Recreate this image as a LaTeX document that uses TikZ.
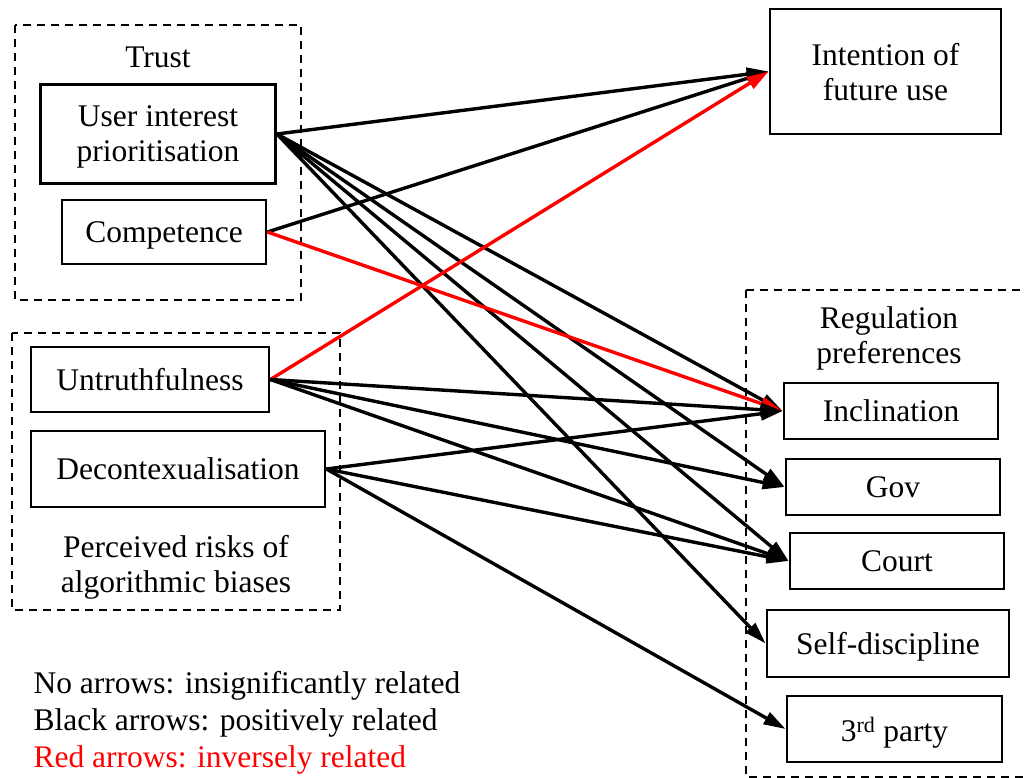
\documentclass[tikz,border=0pt]{standalone}
\usepackage{fontspec}
\setmainfont{Liberation Serif}
\usetikzlibrary{arrows.meta}
\tikzset{
	factor/.style={draw, line width=2.8pt, align=center, inner sep=0pt, text depth=0pt},
	group/.style={draw, line width=2.4pt, dash pattern=on 8pt off 6pt},
	posrel/.style={-{Triangle[length=22pt,width=13pt]}, line width=3.4pt},
	negrel/.style={posrel, red},
}

\begin{document}
\begin{tikzpicture}[x=1pt, y=-1pt, every node/.style={font=\fontsize{31.5}{35}\selectfont}]
	\useasboundingbox (0,0) rectangle (1024,778);

	% Trust
	\draw[group] (15,25) rectangle (301,300);
	\node (trust) at (158,57) {Trust};
	\node[factor, minimum width=235pt, minimum height=99pt] (uip) at (158,134) {User interest\\prioritisation};
	\node[factor, minimum width=204pt, minimum height=64pt] (comp) at (164,232) {Competence};

	% Perceived risks
	\draw[group] (12,333) rectangle (340,610);
	\node[factor, minimum width=238pt, minimum height=65pt] (untr) at (150,379.5) {Untruthfulness};
	\node[factor, minimum width=294pt, minimum height=76pt] (decon) at (178,469) {Decontexualisation};
	\node[align=center] (risks) at (176,567) {Perceived risks of\\algorithmic biases};

	% Intention
	\node[factor, minimum width=231pt, minimum height=125pt] (intent) at (885.5,71.5) {Intention of\\future use};

	% Regulation preferences
	\draw[group] (746,290) rectangle (1040,777);
	\node[align=center] (regul) at (889,338) {Regulation\\preferences};
	\node[factor, minimum width=214pt, minimum height=56pt] (incl) at (891,411) {Inclination};
	\node[factor, minimum width=214pt, minimum height=56pt] (gov) at (893,487) {Gov};
	\node[factor, minimum width=214pt, minimum height=56pt] (court) at (897,561) {Court};
	\node[factor, minimum width=242pt, minimum height=67pt] (selfd) at (888,643.5) {Self-discipline};
	\node[factor, minimum width=215pt, minimum height=66pt] (third) at (894.5,729) {3\textsuperscript{rd} party};

	% Arrows
	\draw[posrel] (uip.east) -- (intent.west);
	\draw[posrel] (uip.east) -- (incl.west);
	\draw[posrel] (uip.east) -- (gov.west);
	\draw[posrel] (uip.east) -- (court.west);
	\draw[posrel] (uip.east) -- (selfd.west);
	\draw[posrel] (comp.east) -- (intent.west);
	\draw[negrel] (comp.east) -- (incl.west);
	\draw[negrel] (untr.east) -- (intent.west);
	\draw[posrel] (untr.east) -- (incl.west);
	\draw[posrel] (untr.east) -- (gov.west);
	\draw[posrel] (untr.east) -- (court.west);
	\draw[posrel] (decon.east) -- (incl.west);
	\draw[posrel] (decon.east) -- (court.west);
	\draw[posrel] (decon.east) -- (third.west);

	% Legend
	\node[anchor=base west] (leg1) at (30,693) {No arrows: insignificantly related};
	\node[anchor=base west] (leg2) at (30,730) {Black arrows: positively related};
	\node[anchor=base west, text=red] (leg3) at (30,767) {Red arrows: inversely related};
\end{tikzpicture}
\end{document}
